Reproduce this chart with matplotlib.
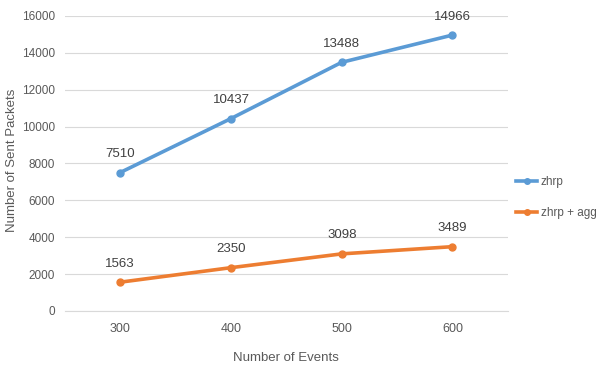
import matplotlib
matplotlib.use('Agg')
import matplotlib.pyplot as plt

plt.rcParams['font.family'] = ['Liberation Sans', 'DejaVu Sans']

events = ['300', '400', '500', '600']
zhrp = [7510, 10437, 13488, 14966]
zhrp_agg = [1563, 2350, 3098, 3489]
yticks = [0, 2000, 4000, 6000, 8000, 10000, 12000, 14000, 16000]

blue = '#5B9BD5'
orange = '#ED7D31'
grey = '#595959'

fig = plt.figure(figsize=(6.06, 3.72), dpi=100)
ax = fig.add_axes([0.107, 0.164, 0.731, 0.793])

x = list(range(len(events)))
ax.plot(x, zhrp, '-o', color=blue, lw=2.6, ms=5, label='zhrp')
ax.plot(x, zhrp_agg, '-o', color=orange, lw=2.6, ms=5, label='zhrp + agg')

for xi, v in zip(x, zhrp):
    ax.annotate(str(v), (xi, v), xytext=(0, 9), textcoords='offset points',
                ha='center', va='bottom', fontsize=9.5, color='#404040')
for xi, v in zip(x, zhrp_agg):
    ax.annotate(str(v), (xi, v), xytext=(0, 9), textcoords='offset points',
                ha='center', va='bottom', fontsize=9.5, color='#404040')

ax.set_xlim(-0.5, 3.5)
ax.set_ylim(0, 16000)
ax.set_xticks(x)
ax.set_xticklabels(events)
ax.set_yticks(yticks)
ax.grid(axis='y', color='#D9D9D9', lw=0.8)
ax.set_axisbelow(True)
for s in ['top', 'right', 'left']:
    ax.spines[s].set_visible(False)
ax.spines['bottom'].set_color('#D9D9D9')
ax.tick_params(length=0, labelsize=8.5, colors=grey, pad=7)
ax.tick_params(axis='x', labelsize=9, pad=9)

ax.set_xlabel('Number of Events', fontsize=9.5, color=grey, labelpad=12)
fig.text(0.019, 0.57, 'Number of Sent Packets', rotation=90, fontsize=9.5,
         color=grey, ha='center', va='center')

ax.legend(loc='center left', bbox_to_anchor=(1.0, 0.385), frameon=False,
          fontsize=8.5, handlelength=1.8, handletextpad=0.3, markerscale=0.8,
          labelspacing=1.6, labelcolor=grey, borderaxespad=0.3)

fig.savefig('out.png', dpi=100)
